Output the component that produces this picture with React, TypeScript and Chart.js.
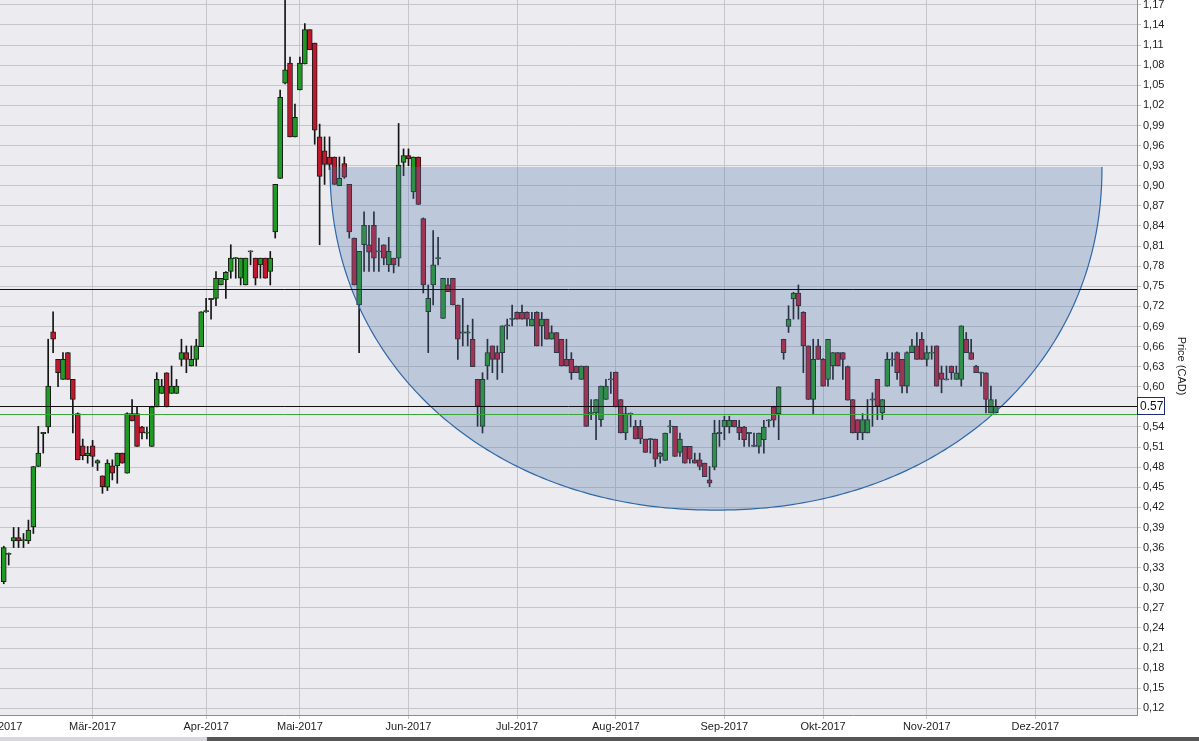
import React, { useEffect, useRef } from 'react';
import { Chart, registerables } from 'chart.js';

Chart.register(...registerables);

// ---- Data (one candle per trading day, index 0 = 2 Feb 2017) ----
const openPrices = [
  0.309, 0.350, 0.370, 0.375, 0.371, 0.370, 0.391, 0.481, 0.531, 0.540,
  0.682, 0.641, 0.611, 0.651, 0.611, 0.560, 0.512, 0.497, 0.512, 0.486,
  0.467, 0.450, 0.482, 0.482, 0.501, 0.471, 0.560, 0.560, 0.540, 0.531,
  0.511, 0.570, 0.590, 0.621, 0.590, 0.590, 0.641, 0.651, 0.631, 0.641,
  0.660, 0.713, 0.731, 0.732, 0.752, 0.760, 0.772, 0.792, 0.762, 0.752,
  0.802, 0.792, 0.782, 0.792, 0.772, 0.831, 0.911, 1.053, 1.083, 0.973,
  1.043, 1.082, 1.133, 1.113, 0.973, 0.952, 0.943, 0.943, 0.900, 0.933,
  0.902, 0.822, 0.722, 0.812, 0.812, 0.841, 0.802, 0.812, 0.782, 0.792,
  0.792, 0.935, 0.945, 0.891, 0.943, 0.851, 0.712, 0.752, 0.792, 0.702,
  0.752, 0.762, 0.722, 0.681, 0.681, 0.671, 0.611, 0.541, 0.631, 0.661,
  0.651, 0.651, 0.691, 0.701, 0.711, 0.711, 0.711, 0.691, 0.711, 0.691,
  0.701, 0.671, 0.681, 0.671, 0.641, 0.641, 0.631, 0.611, 0.631, 0.561,
  0.561, 0.551, 0.581, 0.611, 0.622, 0.581, 0.531, 0.560, 0.541, 0.541,
  0.522, 0.522, 0.522, 0.496, 0.490, 0.541, 0.541, 0.502, 0.511, 0.511,
  0.491, 0.491, 0.486, 0.461, 0.480, 0.531, 0.540, 0.540, 0.550, 0.540,
  0.540, 0.531, 0.512, 0.511, 0.521, 0.550, 0.570, 0.560, 0.671, 0.690,
  0.731, 0.740, 0.711, 0.661, 0.581, 0.661, 0.641, 0.611, 0.631, 0.651,
  0.651, 0.630, 0.581, 0.551, 0.531, 0.531, 0.581, 0.611, 0.561, 0.601,
  0.641, 0.651, 0.641, 0.601, 0.651, 0.661, 0.671, 0.641, 0.651, 0.661,
  0.621, 0.611, 0.631, 0.611, 0.611, 0.671, 0.651, 0.631, 0.621, 0.621,
  0.561, 0.561,
];
const highPrices = [
  0.362, 0.352, 0.390, 0.390, 0.381, 0.401, 0.481, 0.541, 0.532, 0.671,
  0.712, 0.641, 0.651, 0.651, 0.611, 0.561, 0.522, 0.511, 0.520, 0.491,
  0.467, 0.491, 0.491, 0.501, 0.501, 0.561, 0.581, 0.570, 0.541, 0.540,
  0.571, 0.621, 0.611, 0.621, 0.631, 0.611, 0.671, 0.661, 0.661, 0.671,
  0.712, 0.732, 0.732, 0.772, 0.762, 0.772, 0.812, 0.793, 0.792, 0.792,
  0.803, 0.792, 0.792, 0.792, 0.802, 0.902, 1.043, 1.180, 1.092, 1.022,
  1.092, 1.142, 1.133, 1.113, 0.992, 0.973, 0.973, 0.943, 0.943, 0.943,
  0.902, 0.822, 0.802, 0.861, 0.841, 0.861, 0.822, 0.812, 0.823, 0.792,
  0.993, 0.955, 0.955, 0.943, 0.943, 0.852, 0.752, 0.833, 0.823, 0.762,
  0.762, 0.762, 0.722, 0.732, 0.692, 0.701, 0.611, 0.621, 0.671, 0.661,
  0.661, 0.691, 0.701, 0.722, 0.712, 0.722, 0.712, 0.711, 0.712, 0.711,
  0.701, 0.691, 0.681, 0.671, 0.671, 0.651, 0.631, 0.631, 0.631, 0.581,
  0.581, 0.601, 0.611, 0.622, 0.622, 0.581, 0.570, 0.561, 0.550, 0.550,
  0.522, 0.523, 0.522, 0.502, 0.531, 0.550, 0.541, 0.531, 0.511, 0.511,
  0.501, 0.501, 0.486, 0.481, 0.550, 0.550, 0.556, 0.556, 0.550, 0.550,
  0.541, 0.532, 0.531, 0.531, 0.550, 0.551, 0.571, 0.600, 0.671, 0.721,
  0.741, 0.752, 0.712, 0.661, 0.671, 0.671, 0.642, 0.671, 0.651, 0.651,
  0.651, 0.631, 0.581, 0.551, 0.560, 0.581, 0.591, 0.611, 0.581, 0.651,
  0.651, 0.652, 0.641, 0.652, 0.671, 0.681, 0.681, 0.661, 0.661, 0.661,
  0.631, 0.631, 0.631, 0.631, 0.691, 0.681, 0.671, 0.632, 0.622, 0.621,
  0.601, 0.581,
];
const lowPrices = [
  0.306, 0.334, 0.360, 0.360, 0.360, 0.366, 0.381, 0.481, 0.501, 0.531,
  0.651, 0.600, 0.611, 0.611, 0.531, 0.491, 0.491, 0.486, 0.481, 0.475,
  0.441, 0.445, 0.461, 0.456, 0.486, 0.471, 0.549, 0.511, 0.522, 0.522,
  0.511, 0.570, 0.590, 0.570, 0.590, 0.590, 0.631, 0.621, 0.631, 0.631,
  0.660, 0.711, 0.701, 0.721, 0.752, 0.732, 0.762, 0.762, 0.752, 0.752,
  0.782, 0.752, 0.762, 0.762, 0.752, 0.822, 0.911, 1.052, 0.973, 0.973,
  1.043, 1.082, 1.103, 0.962, 0.812, 0.902, 0.924, 0.902, 0.900, 0.911,
  0.822, 0.752, 0.651, 0.772, 0.772, 0.772, 0.772, 0.782, 0.772, 0.770,
  0.780, 0.915, 0.930, 0.881, 0.872, 0.740, 0.651, 0.722, 0.782, 0.702,
  0.742, 0.722, 0.641, 0.661, 0.661, 0.630, 0.541, 0.531, 0.611, 0.621,
  0.611, 0.621, 0.671, 0.691, 0.701, 0.701, 0.691, 0.691, 0.661, 0.661,
  0.671, 0.671, 0.651, 0.631, 0.631, 0.611, 0.621, 0.611, 0.541, 0.551,
  0.521, 0.541, 0.581, 0.590, 0.570, 0.531, 0.521, 0.540, 0.522, 0.515,
  0.502, 0.501, 0.481, 0.486, 0.490, 0.531, 0.496, 0.496, 0.486, 0.486,
  0.486, 0.476, 0.466, 0.451, 0.476, 0.511, 0.521, 0.531, 0.540, 0.521,
  0.511, 0.511, 0.511, 0.501, 0.501, 0.540, 0.540, 0.521, 0.641, 0.681,
  0.701, 0.701, 0.621, 0.581, 0.560, 0.641, 0.601, 0.601, 0.611, 0.631,
  0.611, 0.580, 0.531, 0.521, 0.521, 0.531, 0.541, 0.551, 0.551, 0.601,
  0.631, 0.611, 0.591, 0.591, 0.651, 0.641, 0.641, 0.631, 0.641, 0.601,
  0.591, 0.610, 0.611, 0.611, 0.601, 0.651, 0.641, 0.621, 0.601, 0.561,
  0.561, 0.561,
];
const closePrices = [
  0.360, 0.351, 0.375, 0.370, 0.371, 0.386, 0.481, 0.501, 0.531, 0.601,
  0.671, 0.621, 0.641, 0.611, 0.581, 0.491, 0.497, 0.501, 0.496, 0.490,
  0.451, 0.486, 0.471, 0.501, 0.486, 0.560, 0.549, 0.511, 0.531, 0.532,
  0.570, 0.611, 0.601, 0.570, 0.601, 0.601, 0.651, 0.641, 0.641, 0.661,
  0.712, 0.713, 0.731, 0.762, 0.762, 0.771, 0.792, 0.792, 0.792, 0.792,
  0.802, 0.762, 0.792, 0.762, 0.792, 0.902, 1.032, 1.073, 0.973, 1.002,
  1.083, 1.133, 1.103, 0.983, 0.914, 0.932, 0.932, 0.902, 0.911, 0.913,
  0.831, 0.752, 0.802, 0.841, 0.801, 0.792, 0.802, 0.792, 0.802, 0.782,
  0.931, 0.945, 0.940, 0.943, 0.872, 0.752, 0.732, 0.782, 0.792, 0.762,
  0.742, 0.722, 0.671, 0.681, 0.681, 0.630, 0.571, 0.611, 0.651, 0.641,
  0.641, 0.691, 0.692, 0.702, 0.701, 0.701, 0.701, 0.701, 0.661, 0.701,
  0.671, 0.681, 0.651, 0.631, 0.631, 0.621, 0.621, 0.631, 0.541, 0.561,
  0.581, 0.601, 0.601, 0.611, 0.570, 0.531, 0.560, 0.560, 0.522, 0.522,
  0.502, 0.522, 0.492, 0.501, 0.531, 0.541, 0.496, 0.522, 0.486, 0.492,
  0.486, 0.481, 0.466, 0.456, 0.531, 0.531, 0.550, 0.550, 0.540, 0.531,
  0.521, 0.531, 0.512, 0.531, 0.540, 0.550, 0.550, 0.600, 0.651, 0.701,
  0.740, 0.721, 0.661, 0.581, 0.641, 0.641, 0.601, 0.671, 0.651, 0.631,
  0.641, 0.580, 0.531, 0.531, 0.551, 0.551, 0.581, 0.571, 0.581, 0.641,
  0.641, 0.621, 0.601, 0.651, 0.661, 0.641, 0.641, 0.651, 0.651, 0.601,
  0.611, 0.611, 0.621, 0.621, 0.691, 0.651, 0.641, 0.621, 0.621, 0.581,
  0.581, 0.571,
];

// x-axis: trading-day index of the first session of each month
const monthStartIndex = [-1, 18, 41, 60, 82, 104, 124, 146, 166, 187, 209];
const monthLabels = [
  'Feb-2017', 'Mär-2017', 'Apr-2017', 'Mai-2017', 'Jun-2017', 'Jul-2017',
  'Aug-2017', 'Sep-2017', 'Okt-2017', 'Nov-2017', 'Dez-2017',
];
const xMinIndex = -0.76;
const xMaxIndex = 229.6;

// y-axis ticks (CAD)
const priceTicks = [
  0.12, 0.15, 0.18, 0.21, 0.24, 0.27, 0.30, 0.33, 0.36, 0.39, 0.42, 0.45,
  0.48, 0.51, 0.54, 0.57, 0.60, 0.63, 0.66, 0.69, 0.72, 0.75, 0.78, 0.81,
  0.84, 0.87, 0.90, 0.93, 0.96, 0.99, 1.02, 1.05, 1.08, 1.11, 1.14, 1.17,
];
const yMinPrice = 0.1101;
const yMaxPrice = 1.1773;
const yAxisTitle = 'Price (CAD)';

// drawn levels and cup pattern
const blackLevels = [0.746, 0.5713];
const greenLevels = [0.5594];
const lastPrice = 0.5713;
const lastPriceLabel = '0.57';
const cupStartIndex = 66.1;
const cupEndIndex = 222.5;
const cupTopPrice = 0.928;
const cupBottomPrice = 0.416;
const cupExponent = 2.1;

const FONT = '"Liberation Sans", Arial, sans-serif';
const UP = '#1f9a22';
const DOWN = '#c0182c';
const MIN_BODY = 0.0017;

export default function App() {
  const ref = useRef<HTMLCanvasElement>(null);

  useEffect(() => {
    document.body.style.margin = '0';
    const canvas = ref.current;
    if (!canvas) return;

    const bodyData = openPrices.map((o, i) => {
      let a = o;
      let b = closePrices[i];
      if (Math.abs(a - b) < MIN_BODY) {
        const m = (a + b) / 2;
        a = m - MIN_BODY / 2;
        b = m + MIN_BODY / 2;
      }
      return { x: i, y: [a, b] };
    });
    const wickData = openPrices.map((_, i) => ({ x: i, y: [lowPrices[i], highPrices[i]] }));

    const overlay = {
      id: 'overlay',
      beforeDraw(chart: any) {
        const { ctx, chartArea: a } = chart;
        ctx.save();
        ctx.fillStyle = '#ebebf0';
        ctx.fillRect(a.left, a.top, a.right - a.left, a.bottom - a.top);
        ctx.restore();
      },
      afterDatasetsDraw(chart: any) {
        const { ctx, chartArea: a } = chart;
        const xs = chart.scales.x;
        const ys = chart.scales.y;
        const x1 = xs.getPixelForValue(cupStartIndex);
        const x2 = xs.getPixelForValue(cupEndIndex);
        const yt = ys.getPixelForValue(cupTopPrice);
        const yb = ys.getPixelForValue(cupBottomPrice);
        const cx = (x1 + x2) / 2;
        const rx = (x2 - x1) / 2;
        const ry = yb - yt;
        const e = 2 / cupExponent;
        const cupPath = () => {
          ctx.beginPath();
          const steps = 240;
          for (let k = 0; k <= steps; k++) {
            const t = (Math.PI * k) / steps;
            const c = Math.cos(t);
            const s = Math.sin(t);
            const px = cx + rx * Math.sign(c) * Math.pow(Math.abs(c), e);
            const py = yt + ry * Math.pow(Math.abs(s), e);
            if (k === 0) ctx.moveTo(px, py);
            else ctx.lineTo(px, py);
          }
        };
        ctx.save();
        ctx.beginPath();
        ctx.rect(a.left, a.top, a.right - a.left, a.bottom - a.top);
        ctx.clip();
        cupPath();
        ctx.closePath();
        ctx.fillStyle = 'rgba(85,118,173,0.30)';
        ctx.fill();
        cupPath();
        ctx.strokeStyle = '#2f68a8';
        ctx.lineWidth = 1.2;
        ctx.stroke();

        const drawLevel = (p: number, color: string) => {
          const y = Math.round(ys.getPixelForValue(p)) + 0.5;
          ctx.beginPath();
          ctx.moveTo(a.left, y);
          ctx.lineTo(a.right, y);
          ctx.strokeStyle = color;
          ctx.lineWidth = 1;
          ctx.stroke();
        };
        blackLevels.forEach((p) => drawLevel(p, '#111111'));
        greenLevels.forEach((p) => drawLevel(p, '#3aa63a'));
        ctx.restore();
      },
      afterDraw(chart: any) {
        const { ctx, chartArea: a } = chart;
        const ys = chart.scales.y;
        const y = Math.round(ys.getPixelForValue(lastPrice));
        const x0 = Math.round(a.right);
        ctx.save();
        ctx.fillStyle = '#ffffff';
        ctx.fillRect(x0, y - 9, 28, 18);
        ctx.strokeStyle = '#1d2a78';
        ctx.lineWidth = 1;
        ctx.strokeRect(x0 + 0.5, y - 8.5, 27, 17);
        ctx.fillStyle = '#111111';
        ctx.font = '12px ' + FONT;
        ctx.textBaseline = 'middle';
        ctx.textAlign = 'left';
        ctx.fillText(lastPriceLabel, x0 + 3, y + 1);

        // axis title, rotated to read top-to-bottom
        ctx.translate(1181, 366);
        ctx.rotate(Math.PI / 2);
        ctx.font = '11px ' + FONT;
        ctx.fillStyle = '#222222';
        ctx.textAlign = 'center';
        ctx.textBaseline = 'middle';
        ctx.fillText(yAxisTitle, 0, 0);
        ctx.restore();
      },
    };

    const chart = new Chart(canvas, {
      type: 'bar',
      data: {
        datasets: [
          {
            label: 'wick',
            data: wickData as any,
            backgroundColor: '#151515',
            borderWidth: 0,
            barThickness: 1,
            grouped: false,
            order: 2,
          } as any,
          {
            label: 'body',
            data: bodyData as any,
            backgroundColor: (c: any) =>
              closePrices[c.dataIndex] >= openPrices[c.dataIndex] ? UP : DOWN,
            borderColor: '#1a1a1a',
            borderWidth: 1,
            borderSkipped: false,
            barThickness: 5,
            grouped: false,
            order: 1,
          } as any,
        ],
      },
      options: {
        animation: false,
        responsive: false,
        events: [],
        layout: { padding: 0 },
        plugins: { legend: { display: false }, tooltip: { enabled: false } },
        scales: {
          x: {
            type: 'linear',
            position: 'bottom',
            min: xMinIndex,
            max: xMaxIndex,
            offset: false,
            grid: { color: '#c6c6ca', tickLength: 4, offset: false, lineWidth: 1 },
            border: { color: '#8c8c8c' },
            ticks: {
              autoSkip: false,
              maxRotation: 0,
              minRotation: 0,
              padding: 1,
              color: '#222222',
              font: { family: FONT, size: 11 },
              callback: (_v: any, i: number) => monthLabels[i] ?? '',
            },
            afterBuildTicks: (s: any) => {
              s.ticks = monthStartIndex.map((v) => ({ value: v }));
            },
            afterFit: (s: any) => {
              s.height = 22;
              s.paddingLeft = 0;
              s.paddingRight = 0;
            },
          } as any,
          y: {
            type: 'linear',
            position: 'right',
            min: yMinPrice,
            max: yMaxPrice,
            grid: { color: '#c6c6ca', tickLength: 4, lineWidth: 1 },
            border: { color: '#8c8c8c' },
            ticks: {
              padding: 2,
              color: '#222222',
              font: { family: FONT, size: 11 },
              callback: (v: any) => Number(v).toFixed(2).replace('.', ','),
            },
            afterBuildTicks: (s: any) => {
              s.ticks = priceTicks.map((v) => ({ value: v }));
            },
            afterFit: (s: any) => {
              s.width = 62;
              s.paddingTop = 0;
              s.paddingBottom = 0;
            },
          } as any,
        },
      },
      plugins: [overlay],
    });

    return () => chart.destroy();
  }, []);

  return (
    <div
      style={{
        position: 'fixed',
        left: 0,
        top: 0,
        width: 1199,
        height: 741,
        background: '#ffffff',
        overflow: 'hidden',
      }}
    >
      <canvas ref={ref} width={1199} height={737} style={{ display: 'block', width: 1199, height: 737 }} />
      <div style={{ position: 'absolute', left: 0, top: 737, width: 207, height: 4, background: '#d7d7db' }} />
      <div style={{ position: 'absolute', left: 207, top: 737, width: 992, height: 4, background: '#575757' }} />
    </div>
  );
}
